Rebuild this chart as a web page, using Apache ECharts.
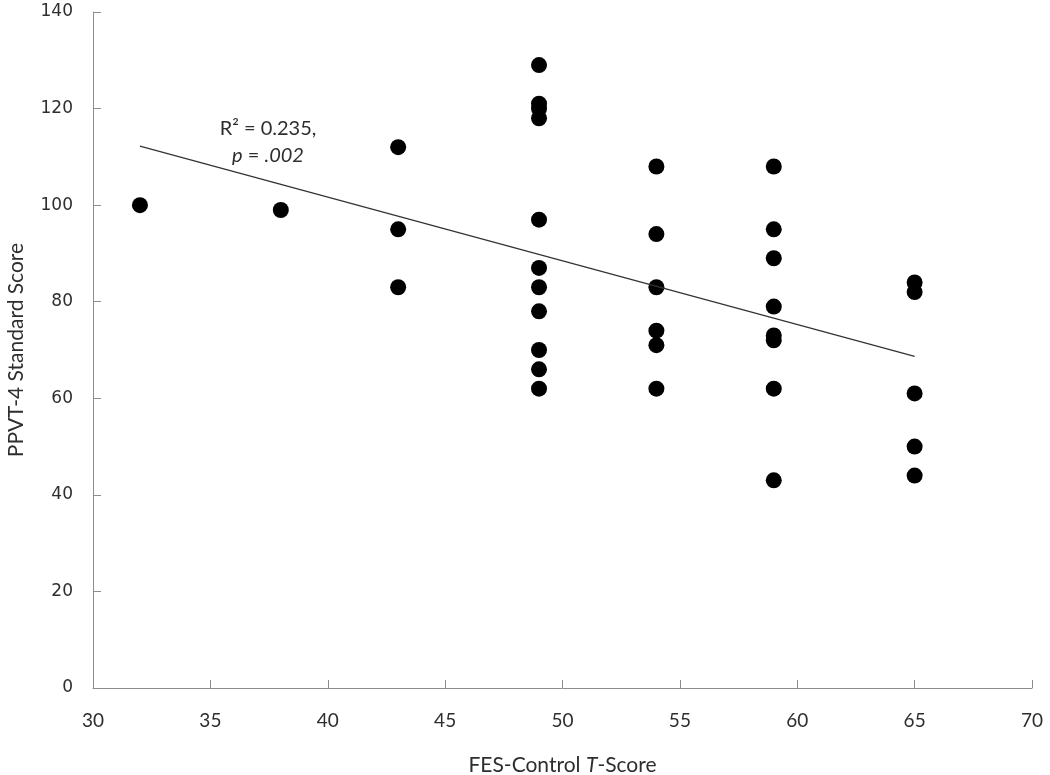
<!DOCTYPE html>
<html>
<head>
<meta charset="utf-8">
<script src="https://cdn.jsdelivr.net/npm/echarts@6/dist/echarts.min.js"></script>
<style>html,body{margin:0;padding:0;background:#fff}#c{width:1050px;height:775px}</style>
</head>
<body>
<div id="c"></div>
<script>
const fesX = [32, 38, 43, 43, 43,
  49, 49, 49, 49, 49, 49, 49, 49, 49, 49, 49,
  54, 54, 54, 54, 54, 54,
  59, 59, 59, 59, 59, 59, 59, 59,
  65, 65, 65, 65, 65];
const ppvtY = [100, 99, 112, 95, 83,
  129, 121, 120, 118, 97, 87, 83, 78, 70, 66, 62,
  108, 94, 83, 74, 71, 62,
  108, 95, 89, 79, 73, 72, 62, 43,
  84, 82, 61, 50, 44];
const trendX = [32, 65];
const trendY = [112.2, 68.7];
const xTicks = [30, 35, 40, 45, 50, 55, 60, 65, 70];
const yTicks = [0, 20, 40, 60, 80, 100, 120, 140];

const chart = echarts.init(document.getElementById('c'));
const axisCol = '#8c8c8c';
const txtCol = '#2e2e2e';
chart.setOption({
  animation: false,
  grid: {left: 93, right: 18, top: 12, bottom: 87, containLabel: false, outerBoundsMode: 'none'},
  xAxis: {
    type: 'value', min: xTicks[0], max: xTicks[xTicks.length - 1], interval: 5,
    splitLine: {show: false},
    axisLine: {lineStyle: {color: axisCol, width: 1}},
    axisTick: {inside: true, length: 8, lineStyle: {color: axisCol}},
    axisLabel: {margin: 23, fontSize: 19, color: txtCol, fontFamily: 'Lato'},
    name: '{a|FES-Control }{b|T}{a|-Score}', nameLocation: 'middle', nameGap: 67,
    nameTextStyle: {rich: {
      a: {fontSize: 21, color: txtCol, fontFamily: 'Lato'},
      b: {fontSize: 21, color: txtCol, fontFamily: 'Lato', fontStyle: 'italic'}
    }}
  },
  yAxis: {
    type: 'value', min: yTicks[0], max: yTicks[yTicks.length - 1], interval: 20,
    splitLine: {show: false},
    axisLine: {show: true, lineStyle: {color: axisCol, width: 1}},
    axisTick: {show: true, inside: true, length: 8, lineStyle: {color: axisCol}},
    axisLabel: {margin: 20, fontSize: 17, color: txtCol, fontFamily: 'DejaVu Sans'},
    name: 'PPVT-4 Standard Score', nameLocation: 'middle', nameGap: 66,
    nameTextStyle: {fontSize: 21, color: txtCol, fontFamily: 'Lato'}
  },
  series: [
    {
      type: 'scatter',
      data: fesX.map((x, i) => [x, ppvtY[i]]),
      symbol: 'circle', symbolSize: 16,
      itemStyle: {color: '#000', opacity: 1}
    },
    {
      type: 'line',
      data: trendX.map((x, i) => [x, trendY[i]]),
      symbol: 'none',
      lineStyle: {color: '#333', width: 1.3},
      z: 3
    }
  ],
  graphic: [
    {type: 'text', x: 268, y: 142, style: {
      text: '{a|R² = 0.235,}\n{b|p}{a| = }{b|.002}',
      rich: {
        a: {fontSize: 20, fill: txtCol, fontFamily: 'Lato', lineHeight: 27},
        b: {fontSize: 20, fill: txtCol, fontFamily: 'Lato', fontStyle: 'italic', lineHeight: 27}
      },
      align: 'center', verticalAlign: 'middle'
    }}
  ]
});
</script>
</body>
</html>
